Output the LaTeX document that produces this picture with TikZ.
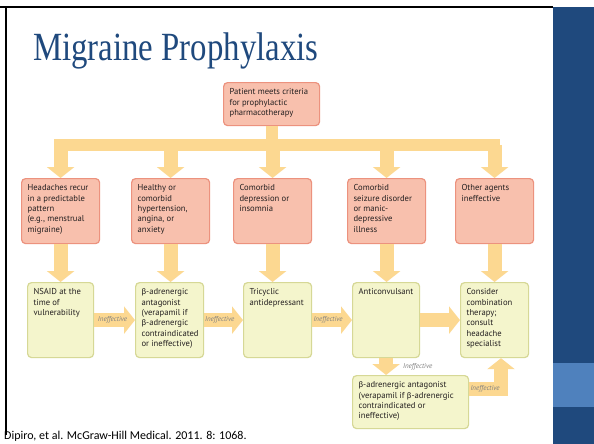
\documentclass[tikz,border=0pt]{standalone}
\usepackage{fontspec}
\setmainfont{PT Sans}
\newfontfamily\titlefont{Liberation Serif}
\newfontfamily\reffont{Carlito}
\newfontfamily\greekfont{Carlito}
\usetikzlibrary{arrows.meta}
\definecolor{slideblue}{RGB}{31,73,125}
\definecolor{bandblue}{RGB}{79,129,189}
\definecolor{pinkfill}{RGB}{248,192,173}
\definecolor{pinkedge}{RGB}{236,146,126}
\definecolor{greenfill}{RGB}{244,245,204}
\definecolor{greenedge}{RGB}{214,216,150}
\definecolor{arrowfill}{RGB}{252,216,145}
\definecolor{textgray}{RGB}{35,31,32}
\newcommand{\bet}{{\greekfont β}}
\newcommand{\boxtxt}[3]{\parbox[t][#2][t]{#1}{\raggedright #3}}

\begin{document}
\begin{tikzpicture}[x=1pt,y=-1pt,
    pink node/.style={draw=pinkedge,fill=pinkfill,line width=1.2pt,rounded corners=4pt,anchor=north west,inner sep=6pt,text=textgray,font=\fontsize{8.6}{10.4}\selectfont},
    green node/.style={pink node,draw=greenedge,fill=greenfill},
    fat arrow/.style={draw=arrowfill,line width=14pt,-{Triangle[length=11pt,width=27pt]}},
    fat line/.style={draw=arrowfill,line width=12pt},
    ineff/.style={font=\fontsize{7}{8}\selectfont\itshape,text=gray,inner sep=0pt}]
    \useasboundingbox[fill=white] (0,0) rectangle (594,444);
    % slide frame and side panel
    \fill[slideblue] (553,7.5) rectangle (594,444);
    \fill[bandblue] (553,363) rectangle (594,407);
    \draw[line width=2pt] (0,7.5) -- (553,7.5);
    \draw[line width=2pt] (6,7.5) -- (6,435);
    \node[anchor=base west,inner sep=0pt,text=slideblue,font=\titlefont\fontsize{40}{44}\selectfont] (title) at (33,61) {\scalebox{0.82}[1]{Migraine Prophylaxis}};
    \node[anchor=base west,inner sep=0pt,font=\reffont\fontsize{12}{14}\selectfont] (cite) at (4,439) {Dipiro, et al. McGraw-Hill Medical. 2011. 8: 1068.};

    % criteria
    \node[pink node] (pat) at (223,82) {\boxtxt{84pt}{31pt}{Patient meets criteria\\for prophylactic\\pharmacotherapy}};
    \node[pink node] (h1) at (21,178) {\boxtxt{66pt}{53pt}{Headaches recur\\in a predictable\\pattern\\(e.g., menstrual\\migraine)}};
    \node[pink node] (h2) at (131,178) {\boxtxt{66pt}{53pt}{Healthy or\\comorbid\\hypertension,\\angina, or\\anxiety}};
    \node[pink node] (h3) at (233,178) {\boxtxt{66pt}{53pt}{Comorbid\\depression or\\insomnia}};
    \node[pink node] (h4) at (347,178) {\boxtxt{66pt}{53pt}{Comorbid\\seizure disorder\\or manic-\\depressive\\illness}};
    \node[pink node] (h5) at (455,178) {\boxtxt{66pt}{53pt}{Other agents\\ineffective}};

    % therapy
    \node[green node] (t1) at (27,282) {\boxtxt{54pt}{63pt}{NSAID at the\\time of\\vulnerability}};
    \node[green node] (t2) at (135,282) {\boxtxt{56pt}{63pt}{\bet-adrenergic\\antagonist\\(verapamil if\\\bet-adrenergic\\contraindicated\\or ineffective)}};
    \node[green node] (t3) at (243,282) {\boxtxt{56pt}{63pt}{Tricyclic\\antidepressant}};
    \node[green node] (t4) at (352,282) {\boxtxt{55pt}{63pt}{Anticonvulsant}};
    \node[green node] (t5) at (460,282) {\boxtxt{56pt}{63pt}{Consider\\combination\\therapy;\\consult\\headache\\specialist}};
    \node[green node] (alt) at (352,375) {\boxtxt{104pt}{41pt}{\bet-adrenergic antagonist\\(verapamil if \bet-adrenergic\\contraindicated or\\ineffective)}};

    % branching
    \coordinate (busL) at (60,145);
    \coordinate (busR) at (494,145);
    \draw[fat line] (pat) -- (pat |- busL);
    \draw[fat line,line cap=rect] (busL) -- (busR);
    \foreach \h in {h1,h2,h3,h4,h5}
      \draw[fat arrow] (\h |- busL) -- (\h);
    \foreach \h/\t in {h1/t1,h2/t2,h3/t3,h4/t4,h5/t5}
      \draw[fat arrow] (\h) -- (\h |- \t.north);

    % ineffective steps
    \draw[fat arrow] (t1) -- node[ineff,pos=0.45] {Ineffective} (t2);
    \draw[fat arrow] (t2) -- node[ineff,pos=0.4] {Ineffective} (t3);
    \draw[fat arrow] (t3) -- node[ineff,pos=0.4] {Ineffective} (t4);
    \draw[fat arrow] (t4) -- (t5);
    \draw[fat arrow] (t4) -- node[ineff,right=10pt] {Ineffective} (t4 |- alt.north);
    \coordinate (elb) at (501,389);
    \draw[fat arrow] (alt.east |- elb) -- node[ineff] {Ineffective} (elb) -- (elb |- t5.south);
\end{tikzpicture}
\end{document}
